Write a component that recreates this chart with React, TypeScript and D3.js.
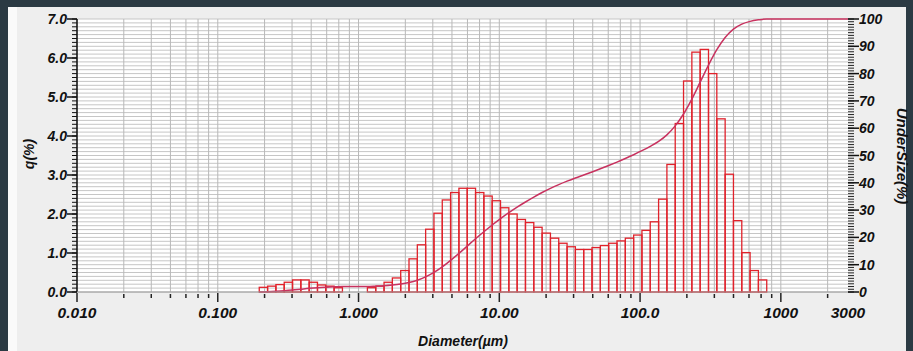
import React from 'react'
import * as d3 from 'd3'

// bin edges of the particle size classes (µm)
const binEdges = [
  0.1971, 0.2259, 0.2588, 0.2965, 0.3397, 0.3892, 0.4459, 0.5109, 0.5854, 0.6707,
  0.7685, 0.8805, 1.009, 1.156, 1.325, 1.518, 1.739, 1.993, 2.283, 2.616,
  2.997, 3.434, 3.934, 4.508, 5.165, 5.918, 6.781, 7.769, 8.902, 10.2,
  11.69, 13.39, 15.34, 17.58, 20.14, 23.08, 26.44, 30.3, 34.71, 39.77,
  45.57, 52.21, 59.82, 68.55, 78.54, 89.99, 103.1, 118.1, 135.4, 155.1,
  177.7, 203.6, 233.3, 267.3, 306.3, 350.9, 402.1, 460.7, 527.9, 604.8,
  693.0, 794.0,
]

// q(%) per class
const qValues = [
  0.12, 0.15, 0.19, 0.25, 0.31, 0.31, 0.25, 0.18, 0.15, 0.11,
  0, 0, 0, 0.11, 0.15, 0.25, 0.36, 0.55, 0.85, 1.21,
  1.61, 2.02, 2.36, 2.55, 2.66, 2.66, 2.55, 2.46, 2.34, 2.16,
  2.0, 1.86, 1.78, 1.66, 1.51, 1.38, 1.25, 1.16, 1.09, 1.09,
  1.14, 1.19, 1.25, 1.31, 1.38, 1.46, 1.58, 1.8, 2.38, 3.27,
  4.32, 5.41, 6.15, 6.22, 5.6, 4.44, 3.02, 1.83, 1.01, 0.55,
  0.31,
]

const xMajorTicks = [0.01, 0.1, 1, 10, 100, 1000, 3000]
const xMajorLabels = ['0.010', '0.100', '1.000', '10.00', '100.0', '1000', '3000']
const minorFactors = [2.15, 3.37, 4.61, 5.94, 7.24, 8.61]
const decades = [0.01, 0.1, 1, 10, 100, 1000]

const qTicks = [0, 1, 2, 3, 4, 5, 6, 7]
const uTicks = [0, 10, 20, 30, 40, 50, 60, 70, 80, 90, 100]

const W = 913
const H = 351
const plot = { left: 77, right: 848, top: 19, bottom: 292 }
const font = "'Liberation Sans', Arial, sans-serif"

export default function App() {
  const x = d3.scaleLog().domain([0.01, 3000]).range([plot.left, plot.right])
  const yq = d3.scaleLinear().domain([0, 7]).range([plot.bottom, plot.top])
  const yu = d3.scaleLinear().domain([0, 100]).range([plot.bottom, plot.top])

  const minorTicks: number[] = []
  decades.forEach(d => minorFactors.forEach(f => { if (d * f < 3000) minorTicks.push(d * f) }))
  const vGrid = [...xMajorTicks.slice(0, -1), ...minorTicks]

  const qMinor = d3.range(0, 70.5).map(i => i / 10)
  const uMinor = d3.range(0, 101)

  // cumulative undersize from the class values
  const total = d3.sum(qValues)
  const cum = Array.from(d3.cumsum(qValues)).map(v => (v / total) * 100)
  const pts: [number, number][] = [[binEdges[0], 0]]
  cum.forEach((v, i) => pts.push([binEdges[i + 1], v]))
  pts.push([3000, 100])

  const line = d3
    .line<[number, number]>()
    .x(d => x(d[0]))
    .y(d => yu(d[1]))
    .curve(d3.curveMonotoneX)

  const txt = { fontFamily: font, fontWeight: 'bold' as const, fontStyle: 'italic' as const, fill: '#111' }

  return (
    <svg width={W} height={H} style={{ position: 'absolute', left: 0, top: 0 }}>
      <rect width={W} height={H} fill="#2b3a43" />
      <rect x={8} y={7} width={9} height={H - 7} fill="#fafafa" />
      <rect x={17} y={7} width={889} height={H - 7} fill="#eeeeee" />
      <rect x={plot.left} y={plot.top} width={plot.right - plot.left} height={plot.bottom - plot.top} fill="#fff" />

      {/* horizontal grid */}
      {qMinor.map((v, i) => (
        <line key={'h' + i} x1={plot.left} x2={plot.right} y1={yq(v)} y2={yq(v)} stroke="#c6c6c6" strokeWidth={1} />
      ))}
      {/* vertical grid */}
      {vGrid.map((v, i) => (
        <line key={'v' + i} x1={x(v)} x2={x(v)} y1={plot.top} y2={plot.bottom} stroke="#b8b8b8" strokeWidth={1} />
      ))}

      {/* histogram */}
      {qValues.map((v, i) =>
        v > 0 ? (
          <rect
            key={'b' + i}
            x={x(binEdges[i])}
            y={yq(v)}
            width={x(binEdges[i + 1]) - x(binEdges[i])}
            height={yq(0) - yq(v)}
            fill="none"
            stroke="#e0222b"
            strokeWidth={1.3}
          />
        ) : null
      )}

      {/* undersize curve */}
      <path d={line(pts) || ''} fill="none" stroke="#c8325f" strokeWidth={1.5} />

      {/* left axis */}
      <line x1={plot.left} x2={plot.left} y1={plot.top} y2={plot.bottom} stroke="#111" strokeWidth={1.5} />
      {qMinor.map((v, i) => (
        <line key={'lm' + i} x1={plot.left - 5} x2={plot.left} y1={yq(v)} y2={yq(v)} stroke="#111" strokeWidth={1} />
      ))}
      {qTicks.map(v => (
        <g key={'lq' + v}>
          <line x1={plot.left - 10} x2={plot.left} y1={yq(v)} y2={yq(v)} stroke="#111" strokeWidth={1.5} />
          <text x={plot.left - 10} y={yq(v)} textAnchor="end" dominantBaseline="central" fontSize={14} {...txt}>
            {v.toFixed(1)}
          </text>
        </g>
      ))}

      {/* right axis */}
      {uMinor.map(v => (
        <line key={'rm' + v} x1={plot.right} x2={plot.right + 6} y1={yu(v)} y2={yu(v)} stroke="#222" strokeWidth={1} />
      ))}
      {uTicks.map(v => (
        <g key={'ru' + v}>
          <line x1={plot.right} x2={plot.right + 11} y1={yu(v)} y2={yu(v)} stroke="#111" strokeWidth={1.5} />
          <text x={plot.right + 11} y={yu(v)} dominantBaseline="central" fontSize={14} {...txt}>
            {v}
          </text>
        </g>
      ))}

      {/* bottom axis */}
      <line x1={plot.left} x2={plot.right} y1={plot.bottom} y2={plot.bottom} stroke="#9a9a9a" strokeWidth={1} />
      {minorTicks.map((v, i) => (
        <line key={'xm' + i} x1={x(v)} x2={x(v)} y1={plot.bottom + 2} y2={plot.bottom + 6} stroke="#222" strokeWidth={1.5} />
      ))}
      {xMajorTicks.map((v, i) => (
        <g key={'xt' + i}>
          {i < xMajorTicks.length - 1 && (
            <line x1={x(v)} x2={x(v)} y1={plot.bottom + 1} y2={plot.bottom + 10} stroke="#222" strokeWidth={1.5} />
          )}
          <text x={x(v)} y={plot.bottom + 26} textAnchor="middle" fontSize={15.5} {...txt}>
            {xMajorLabels[i]}
          </text>
        </g>
      ))}

      {/* axis titles */}
      <text x={463} y={346} textAnchor="middle" fontSize={14} {...txt}>
        Diameter(µm)
      </text>
      <text transform="translate(34,154) rotate(-90)" textAnchor="middle" fontSize={14} {...txt}>
        q(%)
      </text>
      <text transform="translate(897,156) rotate(90)" textAnchor="middle" fontSize={15} {...txt}>
        UnderSize(%)
      </text>
    </svg>
  )
}
